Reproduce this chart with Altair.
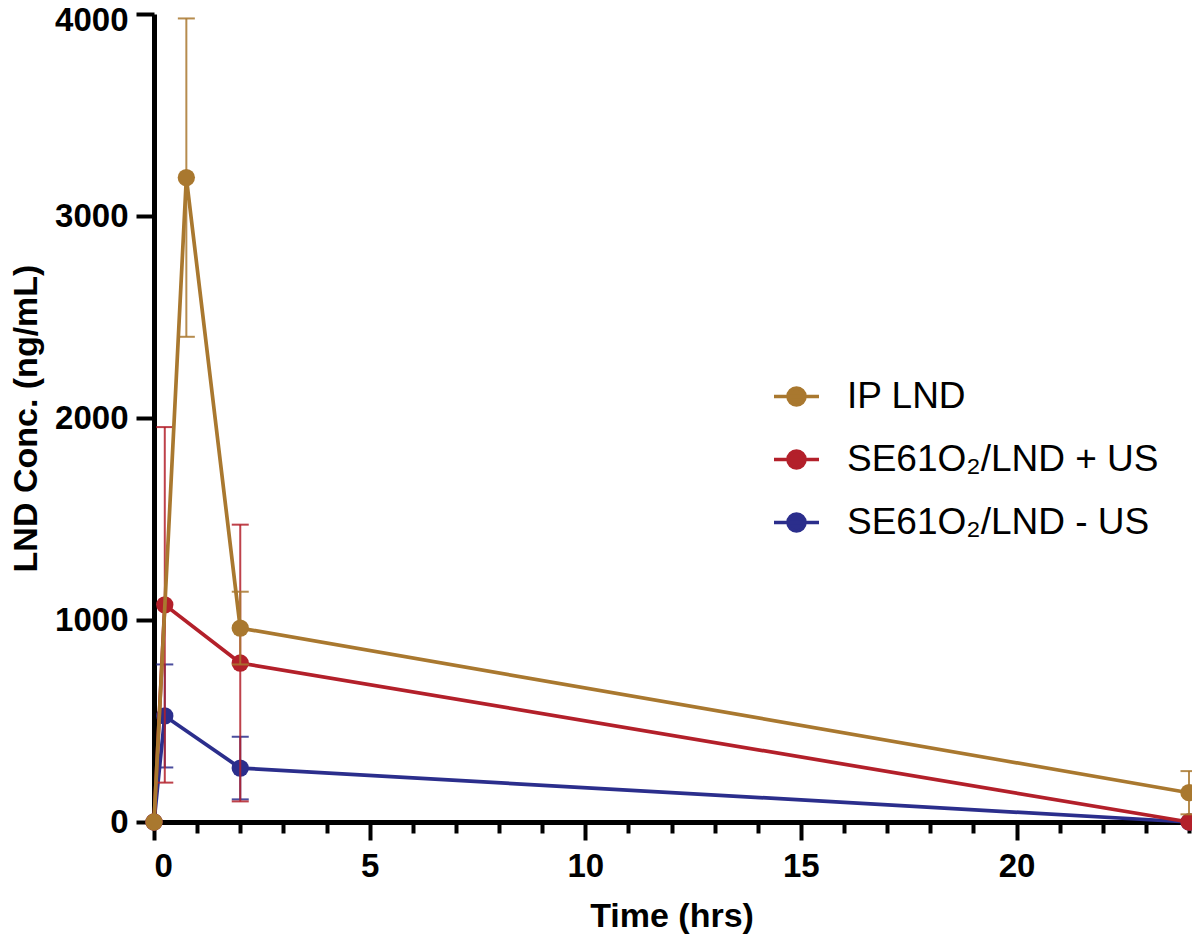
import altair as alt
import pandas as pd

series_names = ["IP LND", "SE61O₂/LND + US", "SE61O₂/LND - US"]
series_colors = ["#A9782F", "#B3202A", "#2B2E8C"]

ip_time = [0, 0.75, 2, 24]
ip_mean = [0, 3190, 960, 145]
ip_sd = [0, 788, 180, 107]

plus_time = [0, 0.25, 2, 24]
plus_mean = [0, 1075, 787, 0]
plus_sd = [0, 880, 685, 0]

minus_time = [0, 0.25, 2, 24]
minus_mean = [0, 525, 267, 0]
minus_sd = [0, 255, 155, 0]

x_ticks = list(range(0, 25))
y_ticks = [0, 1000, 2000, 3000, 4000]

rows = []
for name, t, m, s in [
    (series_names[2], minus_time, minus_mean, minus_sd),
    (series_names[1], plus_time, plus_mean, plus_sd),
    (series_names[0], ip_time, ip_mean, ip_sd),
]:
    for ti, mi, si in zip(t, m, s):
        rows.append({"series": name, "time": ti, "mean": mi, "sd": si,
                     "lo": mi - si, "hi": mi + si})
df = pd.DataFrame(rows)

color_scale = alt.Scale(domain=series_names, range=series_colors)

x_enc = alt.X(
    "time:Q",
    scale=alt.Scale(domain=[0, 24], nice=False, zero=False),
    axis=alt.Axis(
        values=x_ticks,
        labelExpr="datum.value % 5 === 0 ? datum.label : ''",
        labelOverlap=False,
        tickSize={"condition": {"test": "datum.value % 5 === 0", "value": 18}, "value": 11},
        title="Time (hrs)",
        titlePadding=16,
        labelPadding=10,
    ),
)
y_enc = alt.Y(
    "mean:Q",
    scale=alt.Scale(domain=[0, 4000], nice=False),
    axis=alt.Axis(values=y_ticks, format="d", title="LND Conc. (ng/mL)", tickSize=18,
                  labelPadding=8, titlePadding=11,
                  labelOffset={"condition": {"test": "datum.value === 4000", "value": 6}, "value": 0}),
)

legend_path = "M-1,0L1,0M-0.38,0A0.38,0.38,0,1,1,0.38,0A0.38,0.38,0,1,1,-0.38,0Z"

leg = alt.Legend(
    title=None, orient="none", legendX=618, legendY=358,
    symbolType=legend_path, symbolSize=2025, symbolStrokeWidth=3.5,
    symbolOpacity=1,
    labelFontSize=37, labelFont="Liberation Sans", labelFontWeight="normal",
    labelColor="black", labelOffset=26, rowPadding=20, padding=0,
    labelLimit=500,
)

layers = []
for name in [series_names[2], series_names[1], series_names[0]]:
    base = alt.Chart(df).transform_filter(alt.datum.series == name)
    err_base = base.transform_filter(alt.datum.sd > 0)
    col = alt.Color("series:N", scale=color_scale, legend=leg)
    rule = err_base.mark_rule(strokeWidth=2, opacity=0.85).encode(
        x=x_enc, y=alt.Y("lo:Q"), y2="hi:Q", color=col,
    )
    tick_hi = err_base.mark_tick(orient="horizontal", size=17, thickness=2, opacity=0.85).encode(
        x=x_enc, y=alt.Y("hi:Q"), color=col,
    )
    tick_lo = err_base.mark_tick(orient="horizontal", size=17, thickness=2, opacity=0.85).encode(
        x=x_enc, y=alt.Y("lo:Q"), color=col,
    )
    line = base.mark_line(strokeWidth=3.7).encode(
        x=x_enc, y=y_enc, color=col,
    )
    pts = base.mark_point(filled=True, size=300, opacity=1).encode(
        x=x_enc, y=y_enc, color=col,
    )
    layers += [rule, tick_hi, tick_lo, line, pts]

chart = alt.layer(*layers).properties(
    width=1035, height=808,
    autosize=alt.AutoSizeParams(type="none"),
    padding={"left": 146, "top": 6, "right": 3, "bottom": 116},
).configure_view(stroke=None).configure_axis(
    domainColor="black", domainWidth=5, tickColor="black", tickWidth=4,
    grid=False, labelFont="Liberation Sans", labelFontSize=33, labelFontWeight="bold",
    labelColor="black", titleFont="Liberation Sans", titleFontSize=34,
    titleFontWeight="bold", titleColor="black",
)

chart.save("out.html", embed_options={"renderer": "svg", "actions": False})
